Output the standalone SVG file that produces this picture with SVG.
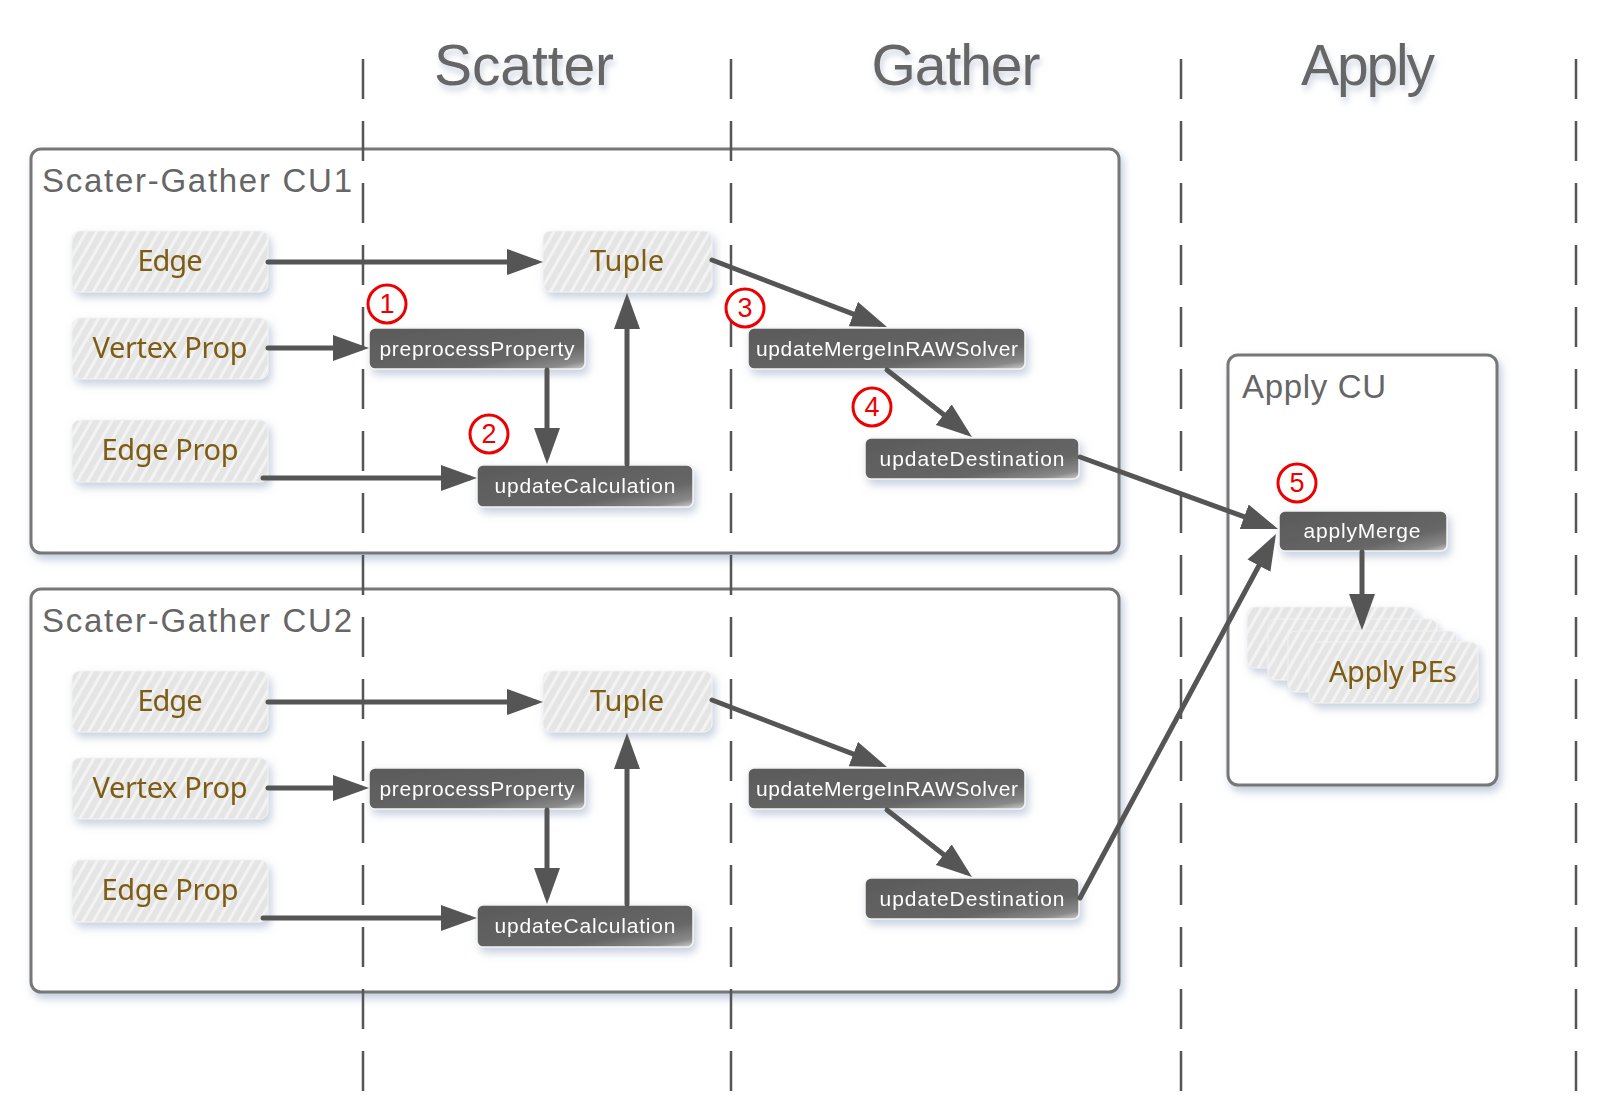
<svg xmlns="http://www.w3.org/2000/svg" width="1602" height="1118" viewBox="0 0 1602 1118">
<defs>
<style>
.hdr{font-family:"Liberation Sans Narrow","Liberation Sans",sans-serif;font-size:57px;fill:#666;text-anchor:middle}
.cu{fill:#fff;stroke:#777;stroke-width:3}
.cut{font-family:"Liberation Sans","DejaVu Sans",sans-serif;font-size:33px;fill:#666}
.lt{fill:url(#hatch);stroke:#f2f2f2;stroke-width:1}
.ltt{font-family:"Noto Sans","Open Sans",sans-serif;font-size:29px;fill:#7d5c12;text-anchor:middle}
.dk{fill:url(#dkg);stroke:#f4f4f4;stroke-width:1.5}
.dkt{font-family:"Liberation Sans","DejaVu Sans",sans-serif;font-size:21px;fill:#fff;text-anchor:middle}
.dash{stroke:#555;stroke-width:2.5;stroke-dasharray:40 22;fill:none}
.ar{stroke:#555;stroke-width:5;fill:none;stroke-linecap:round;marker-end:url(#ah)}
.num circle{fill:#fff;stroke:#e00;stroke-width:3}
.num text{font-family:"Liberation Sans",sans-serif;font-size:27px;fill:#e00;text-anchor:middle}
</style>
<pattern id="hatch" patternUnits="userSpaceOnUse" width="9" height="9" patternTransform="rotate(30)">
<rect width="9" height="9" fill="#e5e5e5"/>
<line x1="1.5" y1="0" x2="1.5" y2="9" stroke="#f3f3f3" stroke-width="3"/>
</pattern>
<linearGradient id="dkg" x1="0" y1="0" x2="1" y2="1">
<stop offset="0" stop-color="#5a5a5a"/>
<stop offset="0.7" stop-color="#666"/>
<stop offset="0.9" stop-color="#8a8a8a"/>
<stop offset="1" stop-color="#cfcfcf"/>
</linearGradient>
<filter id="sh" x="-20%" y="-30%" width="140%" height="170%">
<feDropShadow dx="3" dy="5" stdDeviation="4" flood-color="#8ea2c0" flood-opacity="0.5"/>
</filter>
<filter id="shb" x="-5%" y="-5%" width="110%" height="112%">
<feDropShadow dx="3" dy="5" stdDeviation="4" flood-color="#8ea2c0" flood-opacity="0.55"/>
</filter>
<filter id="sht" x="-10%" y="-20%" width="120%" height="160%">
<feDropShadow dx="2" dy="5" stdDeviation="3" flood-color="#a9b8cc" flood-opacity="0.6"/>
</filter>
<marker id="ah" markerUnits="userSpaceOnUse" markerWidth="36" markerHeight="26" refX="28" refY="13" orient="auto">
<path d="M0,0 L36,13 L0,26 z" fill="#555"/>
</marker>
</defs>
<rect width="1602" height="1118" fill="#fff"/>

<g id="headers" filter="url(#sht)">
<text class="hdr" x="524" y="85" textLength="180">Scatter</text>
<text class="hdr" x="956" y="85" textLength="169">Gather</text>
<text class="hdr" x="1368" y="85" textLength="134">Apply</text>
</g>

<g id="cu1-box"><rect class="cu" x="31" y="149" width="1088" height="404" rx="10" filter="url(#shb)"/>
<text class="cut" x="42" y="192" textLength="310">Scater-Gather CU1</text></g>
<g id="cu2-box"><rect class="cu" x="31" y="589" width="1088" height="403" rx="10" filter="url(#shb)"/>
<text class="cut" x="42" y="632" textLength="310">Scater-Gather CU2</text></g>
<g id="applycu-box"><rect class="cu" x="1228" y="355" width="269" height="430" rx="10" filter="url(#shb)"/>
<text class="cut" x="1242" y="398" textLength="144">Apply CU</text></g>

<g id="lanes">
<line class="dash" x1="363" y1="59" x2="363" y2="1093"/>
<line class="dash" x1="731" y1="59" x2="731" y2="1093"/>
<line class="dash" x1="1181" y1="59" x2="1181" y2="1093"/>
<line class="dash" x1="1576" y1="59" x2="1576" y2="1093"/>
</g>

<g id="cu1-edge" filter="url(#sh)"><rect class="lt" x="72" y="231" width="196" height="61" rx="8"/><text class="ltt" x="170" y="271" textLength="65">Edge</text></g>
<g id="cu1-tuple" filter="url(#sh)"><rect class="lt" x="543" y="231" width="169" height="61" rx="8"/><text class="ltt" x="627" y="271" textLength="74">Tuple</text></g>
<g id="cu1-vertexprop" filter="url(#sh)"><rect class="lt" x="72" y="318" width="196" height="61" rx="8"/><text class="ltt" x="170" y="358" textLength="155">Vertex Prop</text></g>
<g id="cu1-edgeprop" filter="url(#sh)"><rect class="lt" x="72" y="420" width="196" height="62" rx="8"/><text class="ltt" x="170" y="460" textLength="137">Edge Prop</text></g>
<g id="cu1-preprocess" filter="url(#sh)"><rect class="dk" x="369" y="328" width="216" height="41" rx="6"/><text class="dkt" x="477" y="356" textLength="195">preprocessProperty</text></g>
<g id="cu1-updatecalc" filter="url(#sh)"><rect class="dk" x="477" y="465" width="216" height="42" rx="6"/><text class="dkt" x="585" y="493" textLength="181">updateCalculation</text></g>
<g id="cu1-mergesolver" filter="url(#sh)"><rect class="dk" x="748" y="328" width="277" height="41" rx="6"/><text class="dkt" x="887" y="356" textLength="262">updateMergeInRAWSolver</text></g>
<g id="cu1-updatedest" filter="url(#sh)"><rect class="dk" x="865" y="438" width="214" height="41" rx="6"/><text class="dkt" x="972" y="466" textLength="185">updateDestination</text></g>

<g id="cu2-edge" filter="url(#sh)"><rect class="lt" x="72" y="671" width="196" height="61" rx="8"/><text class="ltt" x="170" y="711" textLength="65">Edge</text></g>
<g id="cu2-tuple" filter="url(#sh)"><rect class="lt" x="543" y="671" width="169" height="61" rx="8"/><text class="ltt" x="627" y="711" textLength="74">Tuple</text></g>
<g id="cu2-vertexprop" filter="url(#sh)"><rect class="lt" x="72" y="758" width="196" height="61" rx="8"/><text class="ltt" x="170" y="798" textLength="155">Vertex Prop</text></g>
<g id="cu2-edgeprop" filter="url(#sh)"><rect class="lt" x="72" y="860" width="196" height="62" rx="8"/><text class="ltt" x="170" y="900" textLength="137">Edge Prop</text></g>
<g id="cu2-preprocess" filter="url(#sh)"><rect class="dk" x="369" y="768" width="216" height="41" rx="6"/><text class="dkt" x="477" y="796" textLength="195">preprocessProperty</text></g>
<g id="cu2-updatecalc" filter="url(#sh)"><rect class="dk" x="477" y="905" width="216" height="42" rx="6"/><text class="dkt" x="585" y="933" textLength="181">updateCalculation</text></g>
<g id="cu2-mergesolver" filter="url(#sh)"><rect class="dk" x="748" y="768" width="277" height="41" rx="6"/><text class="dkt" x="887" y="796" textLength="262">updateMergeInRAWSolver</text></g>
<g id="cu2-updatedest" filter="url(#sh)"><rect class="dk" x="865" y="878" width="214" height="41" rx="6"/><text class="dkt" x="972" y="906" textLength="185">updateDestination</text></g>

<g id="applymerge" filter="url(#sh)"><rect class="dk" x="1279" y="511" width="168" height="40" rx="6"/><text class="dkt" x="1362" y="538" textLength="117">applyMerge</text></g>
<g id="applypes" filter="url(#sh)">
<rect class="lt" x="1247" y="607" width="169" height="61" rx="8"/>
<rect class="lt" x="1268" y="619" width="169" height="61" rx="8"/>
<rect class="lt" x="1288" y="631" width="169" height="61" rx="8"/>
<rect class="lt" x="1309" y="642" width="169" height="61" rx="8"/>
<text class="ltt" x="1393" y="682" textLength="128">Apply PEs</text>
</g>

<g id="connectors">
<path class="ar" d="M268,262 L535,262"/>
<path class="ar" d="M268,348 L361,348"/>
<path class="ar" d="M263,478 L469,478"/>
<path class="ar" d="M547,370 L547,456"/>
<path class="ar" d="M627,464 L627,301"/>
<path class="ar" d="M712,260 L879.5,324.1"/>
<path class="ar" d="M887,370 L965.7,432"/>
<path class="ar" d="M1080,457 L1270.5,526.3"/>
<path class="ar" d="M268,702 L535,702"/>
<path class="ar" d="M268,788 L361,788"/>
<path class="ar" d="M263,918 L469,918"/>
<path class="ar" d="M547,810 L547,896"/>
<path class="ar" d="M627,904 L627,741"/>
<path class="ar" d="M712,700 L879.5,764.1"/>
<path class="ar" d="M887,810 L965.7,872"/>
<path class="ar" d="M1080,898 L1272.2,541"/>
<path class="ar" d="M1362,552 L1362,622"/>
</g>

<g id="step1" class="num"><circle cx="387" cy="304" r="19"/><text x="387" y="313">1</text></g>
<g id="step2" class="num"><circle cx="489" cy="434" r="19"/><text x="489" y="443">2</text></g>
<g id="step3" class="num"><circle cx="745" cy="308" r="19"/><text x="745" y="317">3</text></g>
<g id="step4" class="num"><circle cx="872" cy="407" r="19"/><text x="872" y="416">4</text></g>
<g id="step5" class="num"><circle cx="1297" cy="483" r="19"/><text x="1297" y="492">5</text></g>
</svg>
